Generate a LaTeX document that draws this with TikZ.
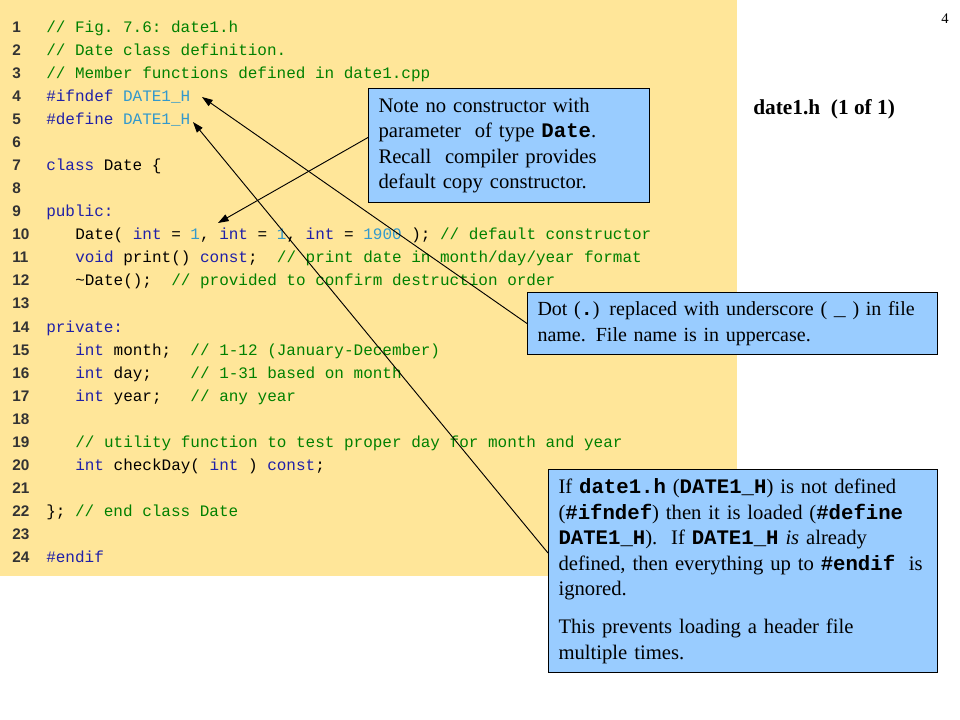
\documentclass[tikz,border=0pt]{standalone}
\usepackage{fontspec}
\setmainfont{Liberation Serif}
\setsansfont{Liberation Sans}
\setmonofont{Liberation Mono}
\usetikzlibrary{arrows.meta}
\definecolor{codebg}{HTML}{FFE699}
\definecolor{notebg}{HTML}{99CCFF}
\definecolor{kwblue}{HTML}{2020A8}
\definecolor{numblue}{HTML}{3399CC}
\definecolor{cmgreen}{HTML}{008000}
\definecolor{lngray}{HTML}{333333}
\newcommand\ckw[1]{\textcolor{kwblue}{#1}}
\newcommand\cnm[1]{\textcolor{numblue}{#1}}
\newcommand\ccm[1]{\textcolor{cmgreen}{#1}}
\newcommand\cmb[1]{{\ttfamily\bfseries #1}}
\newcommand\cln[1]{\mbox{#1}}
\tikzset{
  code/.style={anchor=base west, inner sep=0pt, font=\ttfamily\fontsize{12}{14}\selectfont},
  lnum/.style={anchor=base west, inner sep=0pt, text=lngray, font=\sffamily\bfseries\fontsize{11.5}{13}\selectfont},
  callout/.style={draw=black, line width=0.75pt, fill=notebg, anchor=north west, align=left,
    inner xsep=7.5pt, inner ysep=2pt, font=\fontsize{15.5}{19.2}\selectfont},
  arr/.style={draw=black, line width=0.7pt, -{Triangle[length=8pt,width=5.5pt]}},
}
\begin{document}
\begin{tikzpicture}[x=0.75pt,y=-0.75pt]
\useasboundingbox (0,0) rectangle (960,720);
\fill[white] (0,0) rectangle (960,720);
\fill[codebg] (0,0) rectangle (737,576);
% line numbers
\foreach \i in {1,...,24} \node[lnum] (n\i) at (12,{33+23*(\i-1)}) {\i};
% code
\node[code] (l1) at (46,33) {\ccm{// Fig. 7.6: date1.h}};
\node[code] (l2) at (46,56) {\ccm{// Date class definition.}};
\node[code] (l3) at (46,79) {\ccm{// Member functions defined in date1.cpp}};
\node[code] (l4) at (46,102) {\ckw{\#ifndef} \cnm{DATE1\_H}};
\node[code] (l5) at (46,125) {\ckw{\#define} \cnm{DATE1\_H}};
\node[code] (l7) at (46,171) {\ckw{class} Date \{};
\node[code] (l9) at (46,217) {\ckw{public:}};
\node[code] (l10) at (75,240) {Date( \ckw{int} = \cnm{1}, \ckw{int} = \cnm{1}, \ckw{int} = \cnm{1900} ); \ccm{// default constructor}};
\node[code] (l11) at (75,263) {\ckw{void} print() \ckw{const};~~\ccm{// print date in month/day/year format}};
\node[code] (l12) at (75,286) {\textasciitilde Date();~~\ccm{// provided to confirm destruction order}};
\node[code] (l14) at (46,332) {\ckw{private:}};
\node[code] (l15) at (75,355) {\ckw{int} month;~~\ccm{// 1-12 (January-December)}};
\node[code] (l16) at (75,378) {\ckw{int} day;~~~~\ccm{// 1-31 based on month}};
\node[code] (l17) at (75,401) {\ckw{int} year;~~~\ccm{// any year}};
\node[code] (l19) at (75,447) {\ccm{// utility function to test proper day for month and year}};
\node[code] (l20) at (75,470) {\ckw{int} checkDay( \ckw{int} ) \ckw{const};};
\node[code] (l22) at (46,516) {\}; \ccm{// end class Date}};
\node[code] (l24) at (46,562) {\ckw{\#endif}};
% title and page number
\node[anchor=base west, inner sep=0pt, font=\bfseries\fontsize{16}{18}\selectfont] (title) at (753,115) {date1.h\ \ (1 of 1)};
\node[anchor=base west, inner sep=0pt, font=\fontsize{11}{12}\selectfont] (page) at (941,24) {4};
% callouts
\node[callout, text width=195.75pt, minimum height=85.5pt] (boxA) at (368,88)
  {\cln{Note no constructor with}\\ \cln{parameter\ \ of type \cmb{Date}.}\\ \cln{Recall\ \ compiler provides}\\ \cln{default copy constructor.}};
\node[callout, text width=292.5pt, minimum height=46.5pt, font=\fontsize{15}{19.2}\selectfont] (boxB) at (527,292)
  {\cln{Dot (\cmb{.}) replaced\ with underscore ( \cmb{\_} ) in file}\\ \cln{name. File name is in uppercase.}};
\node[callout, text width=276.75pt, minimum height=152.25pt] (boxC) at (548,469)
  {\cln{If \cmb{date1.h} (\cmb{DATE1\_H}) is not defined}\\ \cln{(\cmb{\#ifndef}) then it is loaded (\cmb{\#define}}\\ \cln{\cmb{DATE1\_H}).\ \ If \cmb{DATE1\_H} \textit{is} already}\\ \cln{defined, then everything up to \cmb{\#endif}\ \ is}\\ \cln{ignored.}\\[9pt] \cln{This prevents loading a header file}\\ \cln{multiple times.}};
% connectors
\coordinate (tA) at (218,223);
\coordinate (t4) at (202,97);
\coordinate (t5) at (193,122);
\draw[arr] ([yshift=6pt]boxA.west) -- (tA);
\draw[arr] (boxB.west) -- (t4);
\draw[arr] ([yshift=13.5pt]boxC.west) -- (t5);
\end{tikzpicture}
\end{document}
